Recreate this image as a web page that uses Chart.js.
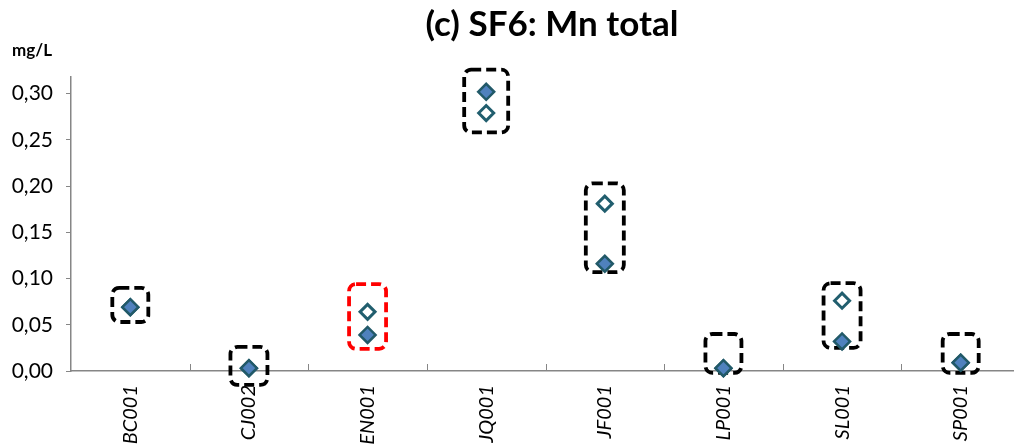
<!DOCTYPE html>
<html>
<head>
<meta charset="utf-8">
<script src="https://cdn.jsdelivr.net/npm/chart.js@4/dist/chart.umd.min.js"></script>
<style>
  html, body { margin: 0; padding: 0; background: #ffffff; overflow: hidden; }
  #wrap { width: 1104px; height: 447px; }
</style>
</head>
<body>
<div id="wrap"><canvas id="chart" width="1104" height="447"></canvas></div>
<script>
// Sampling sites
const categories = ['BC001', 'CJ002', 'EN001', 'JQ001', 'JF001', 'LP001', 'SL001', 'SP001'];
// Mn total, mg/L — first result set (filled diamonds)
const seriesFilled = [0.069, 0.003, 0.039, 0.302, 0.116, 0.003, 0.032, 0.009];
// Mn total, mg/L — second result set (open diamonds)
const seriesOpen = [0.069, 0.003, 0.064, 0.279, 0.181, 0.003, 0.076, 0.009];
// Range box around each site's results (mg/L)
const boxHigh = [0.090, 0.026, 0.094, 0.326, 0.203, 0.040, 0.095, 0.040];
const boxLow = [0.053, -0.015, 0.024, 0.258, 0.107, -0.002, 0.025, -0.002];
// Sites whose range box is highlighted
const flagged = ['EN001'];
// Y axis tick values
const yTicks = [0, 0.05, 0.10, 0.15, 0.20, 0.25, 0.30];

const FONT = 'Lato, "Open Sans", sans-serif';
const AXIS_GREY = '#868686';
const boxWidths = [36, 37, 37, 44, 38, 36, 37, 36];

const rangeBoxes = {
  id: 'rangeBoxes',
  beforeDatasetsDraw(chart) {
    const { ctx, scales: { x, y } } = chart;
    ctx.save();
    ctx.lineWidth = 3.8;
    ctx.setLineDash([10, 5]);
    categories.forEach((name, i) => {
      const cx = x.getPixelForValue(i);
      const top = y.getPixelForValue(boxHigh[i]);
      const bottom = y.getPixelForValue(boxLow[i]);
      const w = boxWidths[i];
      ctx.strokeStyle = flagged.includes(name) ? '#FF0000' : '#000000';
      ctx.beginPath();
      ctx.roundRect(cx - w / 2, top, w, bottom - top, 7);
      ctx.stroke();
    });
    ctx.restore();
  }
};

const chartText = {
  id: 'chartText',
  afterDraw(chart) {
    const { ctx, chartArea, scales: { x } } = chart;
    ctx.save();
    // inner tick marks between categories
    ctx.strokeStyle = AXIS_GREY;
    ctx.lineWidth = 1;
    for (let i = 1; i <= categories.length; i++) {
      const px = Math.round(x.getPixelForValue(i - 0.5)) + 0.5;
      ctx.beginPath();
      ctx.moveTo(px, chartArea.bottom);
      ctx.lineTo(px, chartArea.bottom - 7);
      ctx.stroke();
    }
    ctx.fillStyle = '#000000';
    ctx.textAlign = 'center';
    ctx.textBaseline = 'alphabetic';
    ctx.font = 'bold 35px ' + FONT;
    ctx.fillText('(c) SF6: Mn total', chart.width / 2, 36);
    ctx.textAlign = 'left';
    ctx.font = 'bold 17px ' + FONT;
    ctx.fillText('mg/L', 12, 56);
    ctx.restore();
  }
};

new Chart(document.getElementById('chart'), {
  type: 'line',
  data: {
    labels: categories,
    datasets: [
      {
        label: 'Filled',
        data: seriesFilled,
        showLine: false,
        pointStyle: 'rectRot',
        pointRadius: 8,
        pointHoverRadius: 8,
        pointBackgroundColor: '#4F81BD',
        pointBorderColor: '#215968',
        pointBorderWidth: 2.5,
        clip: false
      },
      {
        label: 'Open',
        data: seriesOpen,
        showLine: false,
        pointStyle: 'rectRot',
        pointRadius: 7.5,
        pointHoverRadius: 7.5,
        pointBackgroundColor: '#FFFFFF',
        pointBorderColor: '#215E6E',
        pointBorderWidth: 3,
        clip: false
      }
    ]
  },
  options: {
    responsive: false,
    animation: false,
    devicePixelRatio: 1,
    layout: { padding: { top: 77, right: 84, left: 0, bottom: 0 } },
    plugins: { legend: { display: false }, title: { display: false }, tooltip: { enabled: false } },
    scales: {
      x: {
        type: 'category',
        offset: true,
        grid: { display: true, drawOnChartArea: false, drawTicks: false },
        border: { display: true, color: AXIS_GREY, width: 1.5 },
        ticks: {
          autoSkip: false,
          minRotation: 90,
          maxRotation: 90,
          padding: 14,
          color: '#000000',
          font: { family: FONT, size: 20, style: 'italic' }
        },
        afterFit(scale) { scale.height = 76; }
      },
      y: {
        min: 0,
        max: 0.318,
        afterBuildTicks(scale) { scale.ticks = yTicks.map(v => ({ value: v })); },
        grid: { display: true, drawOnChartArea: false, drawTicks: true, tickLength: 5, color: AXIS_GREY },
        border: { display: true, color: AXIS_GREY, width: 1.5 },
        ticks: {
          padding: 13,
          color: '#000000',
          font: { family: FONT, size: 21 },
          callback: v => v.toFixed(2).replace('.', ',')
        },
        afterFit(scale) { scale.width = 71; }
      }
    }
  },
  plugins: [rangeBoxes, chartText]
});
</script>
</body>
</html>
